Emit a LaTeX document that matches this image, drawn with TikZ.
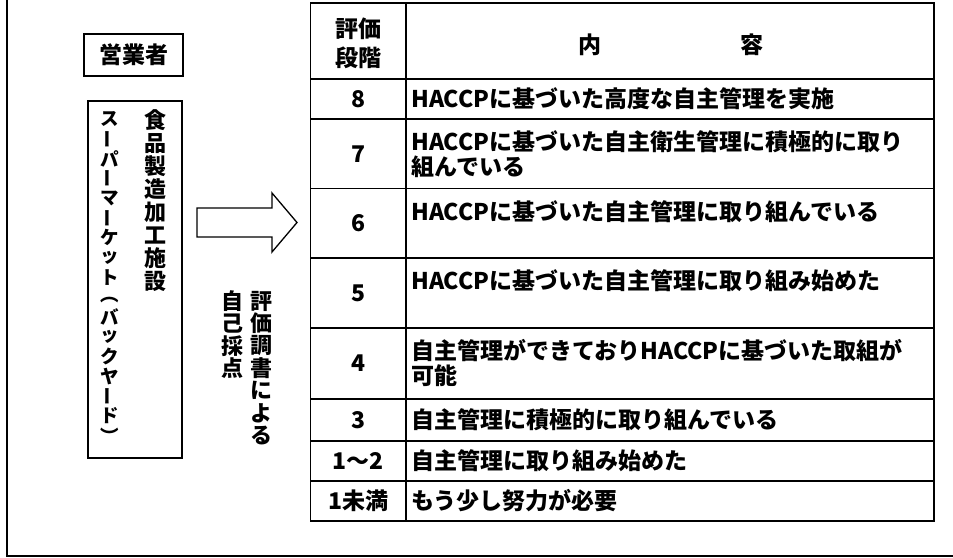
\documentclass[tikz,border=0pt]{standalone}
\usepackage{fontspec}
\setmainfont{Noto Sans CJK JP}
\newcommand\vbar{\rotatebox{90}{ー}}
\begin{document}
\begin{tikzpicture}[x=1pt,y=-1pt,
  ln/.style={line width=1.8pt},
  tl/.style={line width=1.6pt},
  txt/.style={font=\fontsize{23}{26}\selectfont\bfseries, inner sep=0pt},
  vch/.style={font=\fontsize{22}{22}\selectfont\bfseries, inner sep=0pt},
  kch/.style={font=\fontsize{18.5}{18.5}\selectfont\bfseries, inner sep=0pt}]
\useasboundingbox (0,0) rectangle (953,557);
\fill[white] (0,0) rectangle (953,557);
% outer frame
\draw[ln] (7,-5) -- (7,556) -- (960,556);
% operator box
\node[draw, ln, minimum width=99pt, minimum height=42pt, txt, inner sep=0pt] (op) at (133.5,55) {営業者};
% vertical box
\node[draw, ln, minimum width=94pt, minimum height=357pt] (fac) at (135,279.5) {};
\foreach \c [count=\i from 0] in {食,品,製,造,加,工,施,設}
  \node[vch] (fa-\i) at (155, 120.5+\i*23) {\c};
\foreach \c [count=\i from 0] in {ス,\vbar,パ,\vbar,マ,\vbar,ケ,ッ,ト,︵,バ,ッ,ク,ヤ,\vbar,ド,︶}
  \node[kch] (sm-\i) at (110, {119+\i*19.8+(\i==9)*3}) {\c};
% block arrow
\draw[line width=1.3pt, line join=miter] (197,208) -- (272,208) -- (272,193) -- (297,222.5) -- (272,252) -- (272,237) -- (197,237) -- cycle;
% vertical labels
\foreach \c [count=\i from 0] in {評,価,調,書,に,よ,る}
  \node[vch] (ev-\i) at (261, 301+\i*22.4) {\c};
\foreach \c [count=\i from 0] in {自,己,採,点}
  \node[vch] (sf-\i) at (232, 301+\i*22.5) {\c};
% table
\draw[ln] (310.5,3) rectangle (934,521);
\draw[tl] (406,3) -- (406,521);
\foreach \yy in {79,119,188.5,258,328,399,441,481}
  \draw[tl] (310.5,\yy) -- (934,\yy);
% header
\node[txt] (h1) at (358,29) {評価};
\node[txt] (h2) at (358,58) {段階};
\node[txt] (h3) at (590,45) {内};
\node[txt] (h4) at (752,45) {容};
% levels
\node[txt] (n8) at (358,99) {8};
\node[txt] (n7) at (358,154) {7};
\node[txt] (n6) at (358,223) {6};
\node[txt] (n5) at (358,293) {5};
\node[txt] (n4) at (358,363.5) {4};
\node[txt] (n3) at (358,420) {3};
\node[txt] (n2) at (358,461) {1～2};
\node[txt] (n1) at (358,501) {1未満};
% contents
\node[txt, anchor=west] (c8) at (411,99) {HACCPに基づいた高度な自主管理を実施};
\node[txt, anchor=west] (c7a) at (411,142) {HACCPに基づいた自主衛生管理に積極的に取り};
\node[txt, anchor=west] (c7b) at (411,167) {組んでいる};
\node[txt, anchor=west] (c6) at (411,211.5) {HACCPに基づいた自主管理に取り組んでいる};
\node[txt, anchor=west] (c5) at (411,281) {HACCPに基づいた自主管理に取り組み始めた};
\node[txt, anchor=west] (c4a) at (411,351) {自主管理ができておりHACCPに基づいた取組が};
\node[txt, anchor=west] (c4b) at (411,376) {可能};
\node[txt, anchor=west] (c3) at (411,420) {自主管理に積極的に取り組んでいる};
\node[txt, anchor=west] (c2) at (411,461) {自主管理に取り組み始めた};
\node[txt, anchor=west] (c1) at (411,501) {もう少し努力が必要};
\end{tikzpicture}
\end{document}
